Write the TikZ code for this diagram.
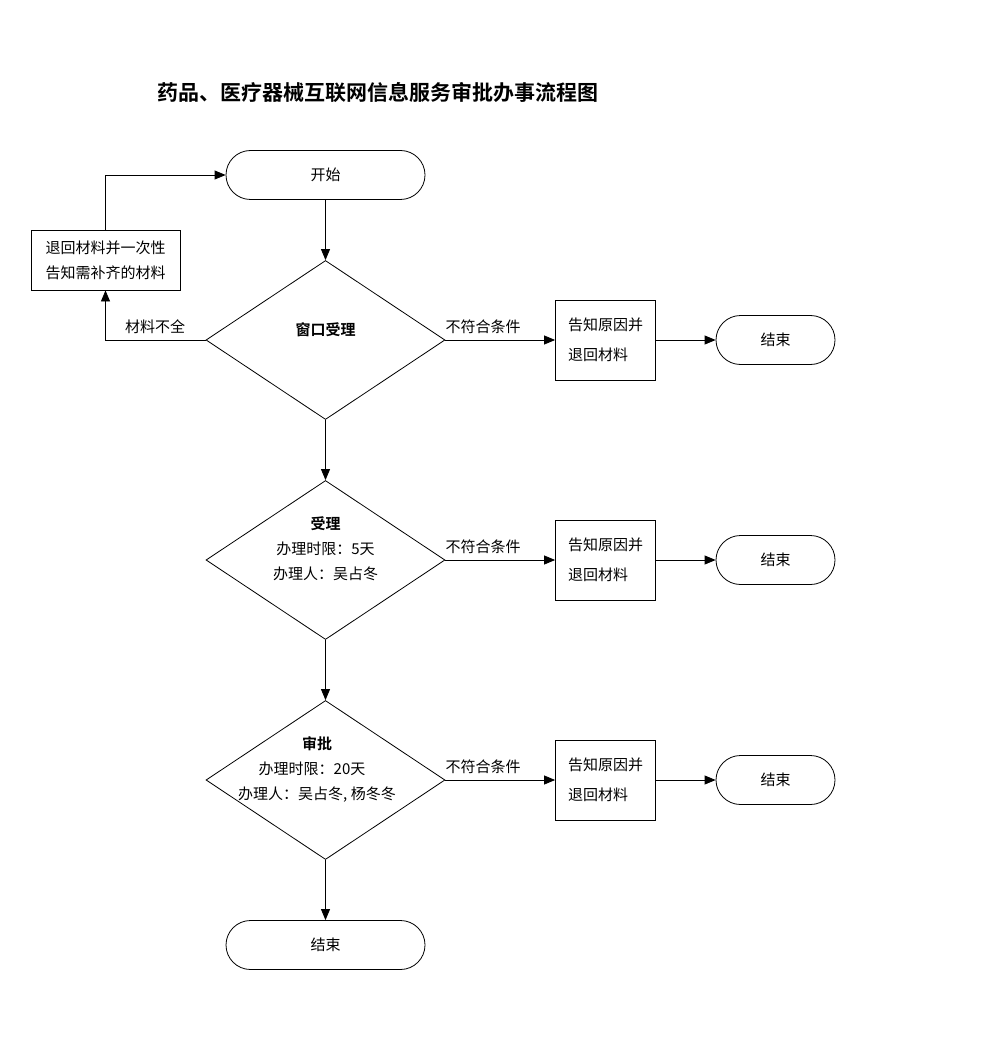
\documentclass[tikz,border=0pt]{standalone}
\usepackage{fontspec}
\setmainfont{Noto Sans CJK SC}[BoldFont={Noto Sans CJK SC Bold}]
\usetikzlibrary{shapes.geometric,arrows.meta}

\tikzset{
	base/.style={font=\fontsize{15}{25}\selectfont, inner sep=0pt},
	terminal/.style={base, draw, rounded corners=24.5pt, minimum width=199pt, minimum height=49pt},
	smallend/.style={base, draw, rounded corners=24.5pt, minimum width=119pt, minimum height=49pt},
	decision/.style={draw, diamond, minimum width=239pt, minimum height=159pt, inner sep=0pt},
	procbox/.style={base, font=\fontsize{15}{30}\selectfont, draw, minimum width=100pt, minimum height=80pt, align=left},
	flow/.style={-{Triangle[length=11pt,width=9pt]}},
	cond/.style={base, anchor=south}
}

\begin{document}
\begin{tikzpicture}[x=1pt, y=-1pt, line width=0.8pt]

	\useasboundingbox (0,0) rectangle (1000,1040);

	\node[font=\fontsize{21}{21}\selectfont\bfseries] (title) at (378,93) {药品、医疗器械互联网信息服务审批办事流程图};

	% start and window check
	\node[terminal] (start) at (325.5,175) {开始};
	\node[decision] (window) at (325.5,340) {};
	\node[base, font=\fontsize{15}{25}\selectfont\bfseries] (windowtxt) at (325.5,330) {窗口受理};
	\node[base, draw, minimum width=149pt, minimum height=60pt, align=center] (retmat) at (105.5,260) {退回材料并一次性\\告知需补齐的材料};
	\coordinate (cornerlow) at (105.5,340);
	\coordinate (cornerup) at (105.5,175);
	\draw[flow] (window.west) -- (cornerlow) -- (retmat.south);
	\draw[flow] (retmat.north) -- (cornerup) -- (start.west);
	\node[cond] (incomplete) at (155,334) {材料不全};
	\draw[flow] (start.south) -- (window.north);

	% accept
	\node[decision] (accept) at (325.5,560) {};
	\node[base, align=center] (accepttxt) at (325.5,549) {\textbf{受理}\\办理时限：5天\\办理人：吴占冬};
	\draw[flow] (window.south) -- (accept.north);

	% approve
	\node[decision] (approve) at (325.5,780) {};
	\node[base, align=center] (approvetxt) at (317,769) {\textbf{审批}\\\hspace*{-10pt}办理时限：20天\\办理人：吴占冬, 杨冬冬};
	\draw[flow] (accept.south) -- (approve.north);

	\node[terminal] (finish) at (325.5,945) {结束};
	\draw[flow] (approve.south) -- (finish.north);

	% rejections on the right
	\foreach \d/\y in {window/340, accept/560, approve/780} {
		\node[procbox] (reject\d) at (605.5,\y) {告知原因并\\退回材料};
		\node[smallend] (end\d) at (775.5,\y) {结束};
		\draw[flow] (\d.east) -- (reject\d.west);
		\draw[flow] (reject\d.east) -- (end\d.west);
		\node[cond] (nomatch\d) at (483,\y-6) {不符合条件};
	}

\end{tikzpicture}
\end{document}
